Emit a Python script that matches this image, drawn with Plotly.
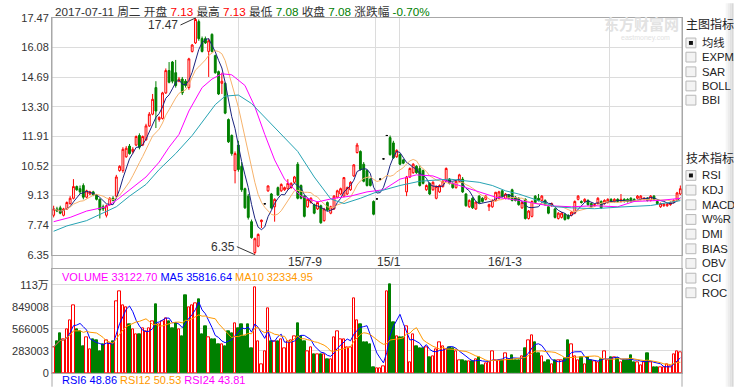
import pandas as pd
import plotly.graph_objects as go

# ---------------- data ----------------
open_ = [8.2, 8.5, 8.55, 8.2, 8.5, 8.75, 9.0, 9.55, 9.45, 9.6,
         9.05, 9.2, 9.3, 9.15, 8.95, 8.6, 8.2, 8.7, 9.0, 9.1,
         10.3, 10.3, 10.95, 11.45, 11.2, 11.5, 11.95, 11.5, 11.75, 12.4,
         12.95, 14.2, 12.7, 12.75, 13.95, 15.0, 15.4, 14.9, 14.5, 14.6,
         14.5, 14.2, 15.9, 16.3, 17.3, 16.5, 16.5, 15.9, 16.7, 15.7,
         14.95, 14.4, 14.4, 12.7, 11.95, 10.3, 11.5, 10.5, 9.45, 9.1,
         7.9, 6.45, 6.75, 7.9, 8.74, 9.35, 9.2, 8.6, 9.5, 9.35,
         9.4, 9.45, 9.5, 9.75, 10.6, 9.6, 9.1, 8.6, 8.8, 8.7,
         8.5, 8.65, 7.95, 8.8, 8.3, 8.5, 9.05, 9.2, 9.1, 9.2,
         9.4, 10.05, 11.15, 11.2, 10.6, 10.3, 9.9, 8.85, 8.97, 9.9,
         10.85, 11.95, 11.85, 11.6, 10.95, 11.05, 10.8, 9.3, 10.0, 10.2,
         10.5, 10.4, 10.3, 9.4, 9.7, 9.4, 9.0, 9.3, 9.55, 9.85,
         9.9, 9.7, 9.5, 9.8, 9.9, 9.2, 8.6, 9.0, 8.5, 9.1,
         9.0, 8.95, 8.6, 8.6, 8.9, 9.0, 9.35, 9.0, 9.15, 9.4,
         9.05, 9.0, 8.55, 8.95, 8.05, 8.15, 9.1, 9.0, 8.9, 8.9,
         8.6, 8.65, 8.5, 8.05, 8.1, 8.25, 8.2, 8.2, 8.3, 8.95,
         8.85, 8.85, 8.9, 8.75, 8.65, 8.75, 8.85, 8.75, 8.8, 8.95,
         8.85, 8.95, 8.85, 8.95, 8.95, 9.0, 8.95, 9.0, 8.95, 8.95,
         9.0, 8.9, 9.1, 8.85, 8.6, 8.65, 8.65, 8.7, 8.8, 8.9,
         9.2]
high = [8.65, 8.6, 8.65, 8.55, 8.85, 9.1, 9.9, 9.6, 9.6, 9.7,
        9.4, 9.35, 9.35, 9.2, 9.0, 8.7, 8.7, 9.05, 9.1, 10.1,
        10.55, 11.4, 11.45, 11.55, 11.4, 11.95, 12.05, 11.95, 12.5, 13.05,
        13.9, 14.5, 12.85, 14.0, 15.1, 15.4, 15.45, 15.5, 14.7, 14.7,
        14.6, 15.6, 16.25, 17.47, 17.4, 16.6, 16.6, 16.5, 16.75, 15.75,
        15.0, 14.9, 14.45, 12.75, 12.0, 11.2, 11.7, 10.7, 9.5, 9.2,
        8.0, 7.15, 7.35, 8.0, 8.76, 9.6, 9.25, 9.0, 9.55, 9.7,
        9.55, 9.9, 9.75, 10.05, 10.7, 9.65, 9.15, 9.0, 9.05, 8.75,
        8.85, 8.7, 8.55, 8.85, 8.65, 9.15, 9.4, 9.5, 10.0, 9.55,
        9.8, 10.6, 11.6, 11.25, 10.7, 10.35, 9.95, 8.9, 8.99, 9.92,
        10.87, 11.97, 11.95, 11.7, 11.3, 11.1, 10.85, 10.05, 10.45, 10.65,
        10.55, 10.55, 10.35, 9.65, 9.75, 9.8, 9.6, 9.65, 9.85, 10.45,
        9.95, 9.75, 9.85, 10.15, 10.0, 9.25, 8.95, 9.05, 8.85, 9.15,
        9.05, 9.15, 8.75, 8.95, 9.3, 9.35, 9.4, 9.25, 9.2, 9.45,
        9.1, 9.05, 8.85, 9.0, 8.45, 8.9, 9.15, 9.2, 9.15, 8.95,
        8.65, 8.8, 8.55, 8.35, 8.35, 8.3, 8.25, 8.4, 8.9, 9.15,
        8.9, 9.0, 8.95, 8.8, 8.75, 9.05, 8.9, 8.95, 9.0, 9.0,
        9.0, 9.0, 9.2, 9.0, 9.0, 9.05, 9.0, 9.15, 9.15, 9.05,
        9.05, 9.15, 9.15, 8.9, 8.8, 8.78, 8.78, 8.85, 8.95, 9.3,
        9.6]
low = [8.1, 8.35, 8.25, 8.15, 8.45, 8.7, 8.95, 9.35, 9.2, 8.95,
       9.0, 9.15, 9.1, 8.9, 8.05, 8.4, 8.1, 8.65, 8.85, 9.0,
       10.25, 10.2, 10.9, 11.05, 11.1, 11.45, 11.3, 11.45, 11.7, 12.35,
       12.9, 12.3, 12.6, 12.7, 13.9, 14.4, 14.4, 14.2, 14.45, 13.85,
       14.2, 14.1, 15.85, 16.25, 16.4, 15.85, 16.25, 14.7, 15.85, 14.85,
       13.85, 13.9, 12.95, 11.6, 11.0, 9.7, 10.25, 9.3, 8.5, 8.0,
       7.1, 6.35, 6.7, 7.6, 8.72, 9.3, 8.5, 7.9, 9.1, 9.3,
       9.35, 9.4, 9.45, 9.7, 8.95, 8.95, 8.1, 8.55, 8.75, 8.25,
       8.45, 7.8, 7.9, 8.4, 8.25, 8.45, 9.0, 9.15, 9.05, 9.15,
       9.35, 10.0, 11.1, 10.3, 9.75, 9.55, 9.55, 8.2, 8.95, 9.88,
       10.83, 11.93, 11.0, 10.85, 10.9, 10.55, 10.6, 9.1, 9.95, 10.15,
       10.15, 9.55, 9.65, 9.35, 9.15, 9.35, 8.95, 9.25, 9.5, 9.8,
       9.65, 9.45, 9.45, 9.75, 9.25, 8.6, 8.55, 8.5, 8.45, 8.75,
       8.8, 8.9, 8.4, 8.55, 8.85, 8.95, 9.05, 8.95, 8.95, 8.85,
       8.85, 8.65, 8.5, 8.0, 8.0, 8.1, 8.75, 8.85, 8.85, 8.65,
       8.25, 8.6, 8.05, 8.0, 8.05, 7.95, 8.0, 8.15, 8.25, 8.9,
       8.75, 8.8, 8.65, 8.55, 8.6, 8.7, 8.5, 8.7, 8.75, 8.8,
       8.8, 8.8, 8.8, 8.8, 8.8, 8.8, 8.85, 8.95, 8.9, 8.9,
       8.85, 8.85, 8.9, 8.7, 8.55, 8.6, 8.6, 8.65, 8.75, 8.85,
       9.15]
close = [8.5, 8.4, 8.3, 8.5, 8.8, 9.0, 9.55, 9.4, 9.3, 9.05,
         9.35, 9.3, 9.15, 8.95, 8.45, 8.5, 8.65, 9.0, 8.9, 10.0,
         10.5, 11.3, 11.35, 11.1, 11.3, 11.9, 11.4, 11.9, 12.4, 12.95,
         13.65, 13.1, 12.8, 13.95, 15.0, 14.45, 14.5, 14.3, 14.6, 13.95,
         14.3, 15.55, 16.2, 17.4, 16.5, 15.9, 16.3, 16.4, 15.9, 14.9,
         13.9, 14.5, 13.0, 11.65, 11.1, 11.1, 10.35, 9.4, 8.55, 8.1,
         7.15, 7.1, 7.3, 7.97, 8.74, 9.58, 8.55, 8.95, 9.15, 9.65,
         9.5, 9.7, 9.7, 10.0, 9.0, 9.0, 8.15, 8.95, 9.0, 8.3,
         8.8, 7.85, 8.5, 8.45, 8.6, 9.1, 9.35, 9.45, 9.97, 9.5,
         9.75, 10.57, 11.5, 10.35, 9.8, 9.6, 9.6, 8.25, 8.97, 9.9,
         10.85, 11.95, 11.05, 10.9, 11.25, 10.6, 10.65, 10.0, 10.4, 10.6,
         10.2, 9.6, 9.7, 9.6, 9.2, 9.75, 9.55, 9.6, 9.8, 10.4,
         9.7, 9.5, 9.8, 10.1, 9.3, 8.65, 8.9, 8.55, 8.82, 8.8,
         8.85, 9.1, 8.7, 8.9, 9.28, 9.3, 9.1, 9.2, 9.0, 8.9,
         8.9, 8.7, 8.8, 8.05, 8.4, 8.85, 8.8, 8.9, 9.1, 8.7,
         8.3, 8.75, 8.1, 8.3, 8.3, 8.0, 8.05, 8.35, 8.85, 9.1,
         8.8, 8.95, 8.7, 8.6, 8.7, 9.0, 8.55, 8.9, 8.95, 8.85,
         8.95, 8.85, 8.95, 8.85, 8.85, 8.85, 8.9, 9.1, 9.1, 9.0,
         8.9, 9.1, 8.95, 8.75, 8.75, 8.72, 8.72, 8.8, 8.9, 9.25,
         9.45]
volume = [335, 411, 516, 432, 558, 671, 864, 558, 537, 348,
          453, 306, 432, 419, 285, 369, 419, 377, 411, 922,
          1048, 864, 851, 621, 558, 495, 495, 579, 537, 579,
          662, 881, 621, 662, 704, 662, 579, 642, 558, 474,
          998, 851, 872, 893, 948, 495, 600, 453, 432, 432,
          369, 369, 348, 537, 516, 642, 579, 629, 474, 629,
          319, 1103, 411, 109, 285, 830, 411, 411, 411, 432,
          319, 411, 419, 474, 642, 474, 411, 285, 335, 243,
          243, 235, 235, 180, 180, 453, 537, 432, 432, 335,
          335, 956, 683, 621, 390, 390, 369, 70, 63, 63,
          84, 1048, 1145, 654, 474, 453, 461, 600, 138, 503,
          348, 319, 319, 335, 201, 210, 306, 398, 348, 306,
          327, 319, 285, 168, 168, 147, 147, 147, 180, 201,
          96, 126, 138, 273, 168, 159, 159, 252, 180, 222,
          159, 168, 210, 319, 423, 486, 398, 252, 210, 138,
          159, 109, 159, 159, 168, 190, 423, 369, 210, 168,
          201, 109, 201, 168, 150, 138, 180, 273, 159, 201,
          201, 193, 138, 168, 168, 222, 138, 138, 96, 138,
          252, 138, 67, 67, 67, 67, 109, 84, 243, 273,
          260]
volume = [v * 1000 for v in volume]

# slower moving averages (candle index -> price)
ma20_idx = [0, 5, 10, 16, 19, 23, 28, 32, 35, 38, 41, 45, 48, 51, 54, 58, 61, 64, 67, 70,
            75, 80, 85, 90, 95, 100, 105, 110, 115, 120, 125, 129, 134, 141, 150, 157, 164,
            171, 176, 184, 190]
ma20_val = [7.9, 8.1, 8.4, 8.6, 8.9, 9.4, 10.0, 10.7, 11.4, 12.0, 13.1, 14.2, 14.6, 14.85,
            14.8, 14.3, 13.3, 12.0, 10.8, 9.9, 9.1, 8.83, 9.0, 9.1, 9.3, 9.4, 9.9, 10.1,
            10.05, 9.75, 9.5, 9.3, 9.05, 8.9, 8.65, 8.6, 8.65, 8.6, 8.85, 8.9, 9.0]
ma30_idx = [0, 4, 10, 16, 19, 23, 28, 32, 37, 42, 46, 49, 52, 56, 60, 67, 74, 79, 84, 88,
            93, 98, 105, 111, 120, 129, 133, 137, 141, 147, 152, 157, 164, 172, 181, 190]
ma30_val = [7.45, 7.7, 7.95, 8.4, 8.6, 9.1, 9.65, 10.35, 11.1, 11.95, 12.8, 13.4, 13.8,
            13.85, 13.45, 12.3, 11.2, 10.0, 8.97, 8.75, 9.0, 9.3, 9.6, 9.8, 9.9, 9.75,
            9.6, 9.35, 9.2, 8.89, 8.6, 8.55, 8.51, 8.59, 8.66, 8.89]

price_ticks = [6.35, 7.74, 9.13, 10.52, 11.91, 13.30, 14.69, 16.08, 17.47]
price_tick_text = ["6.35", "7.74", "9.13", "10.52", "11.91", "13.30", "14.69", "16.08", "17.47"]
vol_ticks = [0, 283003, 566005, 849008, 1132011]
vol_tick_text = ["0", "283003", "566005", "849008", "113万"]
date_labels = ["15/7-9", "15/1", "16/1-3"]
date_pos = [76.2, 101.8, 136.7]
grid_x = [56, 97.5, 105, 168.5]

# ---------------- styling helpers ----------------
FONT = "Liberation Sans, Arial, Noto Sans CJK SC, sans-serif"
RED, GREEN = "#ff0000", "#008000"
GRID, FRAME = "#dcdcdc", "#a8a8a8"
L, R, T, B = 47, 52, 15, 13
W, H = 734, 391
PW, PH = W - L - R, H - T - B


def px(x):
    return (x - L) / PW


def py(y):
    return (H - B - y) / PH


n = len(close)
idx = list(range(n))
flat = [abs(c - o) < 1e-9 for o, c in zip(open_, close)]
up = [c >= o for o, c in zip(open_, close)]
nf = [i for i in idx if not flat[i]]
fl = [i for i in idx if flat[i]]

ma5 = pd.Series(close).rolling(5, min_periods=1).mean()
ma10 = pd.Series(close).rolling(10, min_periods=1).mean()
vma5 = pd.Series(volume).rolling(5, min_periods=1).mean()
vma10 = pd.Series(volume).rolling(10, min_periods=1).mean()

fig = go.Figure()
fig.add_trace(go.Candlestick(
    x=nf, open=[open_[i] for i in nf], high=[high[i] for i in nf],
    low=[low[i] for i in nf], close=[close[i] for i in nf],
    increasing=dict(line=dict(color=RED, width=1), fillcolor="#ffffff"),
    decreasing=dict(line=dict(color=GREEN, width=1), fillcolor=GREEN),
    whiskerwidth=0, hoverinfo="skip", xaxis="x", yaxis="y"))
fig.add_trace(go.Candlestick(
    x=fl, open=[open_[i] for i in fl], high=[high[i] for i in fl],
    low=[low[i] for i in fl], close=[close[i] for i in fl],
    increasing=dict(line=dict(color="#000000", width=1), fillcolor="#000000"),
    decreasing=dict(line=dict(color="#000000", width=1), fillcolor="#000000"),
    whiskerwidth=0, hoverinfo="skip", xaxis="x", yaxis="y"))

for xs, ys, col in [(idx, ma5, "#1a237e"), (idx, ma10, "#f6b26b"),
                    (ma20_idx, ma20_val, "#ff00ff"), (ma30_idx, ma30_val, "#26a3b3")]:
    fig.add_trace(go.Scatter(x=xs, y=list(ys), mode="lines", line=dict(color=col, width=1),
                             hoverinfo="skip", xaxis="x", yaxis="y"))

fig.add_trace(go.Bar(
    x=idx, y=volume, width=0.72,
    marker=dict(color=["#ffffff" if u else GREEN for u in up],
                line=dict(color=[RED if u else GREEN for u in up], width=1)),
    hoverinfo="skip", xaxis="x2", yaxis="y2"))
fig.add_trace(go.Scatter(x=idx, y=list(vma5), mode="lines", line=dict(color="#0000ff", width=1),
                         hoverinfo="skip", xaxis="x2", yaxis="y2"))
fig.add_trace(go.Scatter(x=idx, y=list(vma10), mode="lines", line=dict(color="#ff9900", width=1),
                         hoverinfo="skip", xaxis="x2", yaxis="y2"))

axis_common = dict(showgrid=True, gridcolor=GRID, gridwidth=1, zeroline=False,
                   showline=True, linecolor=FRAME, linewidth=1, mirror=True, ticks="",
                   fixedrange=True, tickfont=dict(size=11, color="#333333", family=FONT))

fig.update_layout(
    width=W, height=H, margin=dict(l=L, r=R, t=T, b=B),
    paper_bgcolor="white", plot_bgcolor="white", showlegend=False, boxgap=0.2,
    bargap=0, font=dict(family=FONT, size=11, color="#333333"),
    xaxis=dict(domain=[0, 1], anchor="y", range=[-0.5, n - 0.5], tickvals=grid_x,
               showticklabels=False, rangeslider=dict(visible=False), **axis_common),
    yaxis=dict(domain=[py(257), 1], anchor="x", range=[6.35, 17.47], tickvals=price_ticks,
               ticktext=price_tick_text, **axis_common),
    xaxis2=dict(domain=[0, 1], anchor="y2", range=[-0.5, n - 0.5], tickvals=grid_x,
                showticklabels=False, **axis_common),
    yaxis2=dict(domain=[0, py(272)], anchor="x2", range=[0, 1333268], tickvals=vol_ticks,
                ticktext=vol_tick_text, **axis_common),
)

ann = []
hdr = ("2017-07-11 周二 开盘 <span style='color:#ff0000'>7.13</span> 最高 "
       "<span style='color:#ff0000'>7.13</span> 最低 <span style='color:#008000'>7.08</span> "
       "收盘 <span style='color:#008000'>7.08</span> 涨跌幅 "
       "<span style='color:#008000'>-0.70%</span>")
ann.append(dict(text=hdr, xref="paper", yref="paper", x=px(48), y=py(8), xanchor="left",
                yanchor="middle", showarrow=False, font=dict(size=11.7, color="#333333")))
for lab, pos in zip(date_labels, date_pos):
    ann.append(dict(text=lab, xref="x", yref="paper", x=pos, y=py(264), xanchor="center",
                    yanchor="middle", showarrow=False, font=dict(size=12, color="#333333")))
ann.append(dict(text="<span style='color:#ff00ff'>VOLUME 33122.70</span> "
                     "<span style='color:#0000ff'>MA5 35816.64</span> "
                     "<span style='color:#ff9900'>MA10 32334.95</span>",
                xref="paper", yref="paper", x=px(55), y=py(280), xanchor="left",
                yanchor="middle", showarrow=False, font=dict(size=11)))
ann.append(dict(text="<span style='color:#0000ff'>RSI6 48.86</span> "
                     "<span style='color:#ff9900'>RSI12 50.53</span> "
                     "<span style='color:#ff00ff'>RSI24 43.81</span>",
                xref="paper", yref="paper", x=px(55), y=py(385), xanchor="left",
                yanchor="middle", showarrow=False, font=dict(size=11)))
imax = high.index(max(high))
imin = low.index(min(low))
ann.append(dict(text=f"{max(high):.2f}", x=imax, y=max(high), xref="x", yref="y",
                ax=-15, ay=7, xanchor="right", yanchor="middle", showarrow=True, arrowhead=0,
                arrowwidth=1, arrowcolor="#333333", standoff=0, font=dict(size=12, color="#333333")))
ann.append(dict(text=f"{min(low):.2f}", x=imin, y=min(low), xref="x", yref="y",
                ax=-18, ay=-8, xanchor="right", yanchor="middle", showarrow=True, arrowhead=0,
                arrowwidth=1, arrowcolor="#333333", standoff=0, font=dict(size=12, color="#333333")))
# watermark
ann.append(dict(text="<b>东方财富网</b>", xref="paper", yref="paper", x=px(641), y=py(22),
                xanchor="center", yanchor="middle", showarrow=False,
                font=dict(size=15, color="#e2e2e2")))
ann.append(dict(text="eastmoney.com", xref="paper", yref="paper", x=px(645), y=py(35),
                xanchor="center", yanchor="middle", showarrow=False,
                font=dict(size=7, color="#e2e2e2")))

# side panel
side_main = ["均线", "EXPMA", "SAR", "BOLL", "BBI"]
side_main_y = [40.5, 55, 70, 84.5, 99]
side_tech = ["RSI", "KDJ", "MACD", "W%R", "DMI", "BIAS", "OBV", "CCI", "ROC"]
side_tech_y = [176, 191, 206, 221, 236, 251, 266, 281, 296]
checked = {"均线", "RSI"}
ann.append(dict(text="主图指标", xref="paper", yref="paper", x=px(684), y=py(22),
                xanchor="left", yanchor="middle", showarrow=False, font=dict(size=12, color="#222222")))
ann.append(dict(text="技术指标", xref="paper", yref="paper", x=px(684), y=py(159),
                xanchor="left", yanchor="middle", showarrow=False, font=dict(size=12, color="#222222")))
shapes = []
for lab, yy in list(zip(side_main, side_main_y)) + list(zip(side_tech, side_tech_y)):
    ann.append(dict(text=lab, xref="paper", yref="paper", x=px(700), y=py(yy), xanchor="left",
                    yanchor="middle", showarrow=False, font=dict(size=11.3, color="#222222")))
    shapes.append(dict(type="rect", xref="paper", yref="paper", x0=px(686), x1=px(696),
                       y0=py(yy + 5), y1=py(yy - 5), line=dict(color="#b8b8b8", width=1),
                       fillcolor="#f3f3f3", layer="above"))
    if lab in checked:
        shapes.append(dict(type="rect", xref="paper", yref="paper", x0=px(689), x1=px(693),
                           y0=py(yy + 2), y1=py(yy - 2), line=dict(width=0),
                           fillcolor="#111111", layer="above"))

# frame lines running the full height
for xline in (47, 682):
    shapes.append(dict(type="line", xref="paper", yref="paper", x0=px(xline), x1=px(xline),
                       y0=py(15), y1=py(392), line=dict(color=FRAME, width=1)))
# right edge shadow
for k, col in enumerate(["#f6f6f6", "#ececec", "#e2e2e2", "#d8d8d8"]):
    shapes.append(dict(type="rect", xref="paper", yref="paper", x0=px(726 + 2 * k),
                       x1=px(728 + 2 * k), y0=py(392), y1=py(0), line=dict(width=0),
                       fillcolor=col, layer="below"))

fig.update_layout(annotations=ann, shapes=shapes)
fig.write_html("out.html", config={"displayModeBar": False},
               post_script="document.body.style.margin='0';document.body.style.overflow='hidden';")
